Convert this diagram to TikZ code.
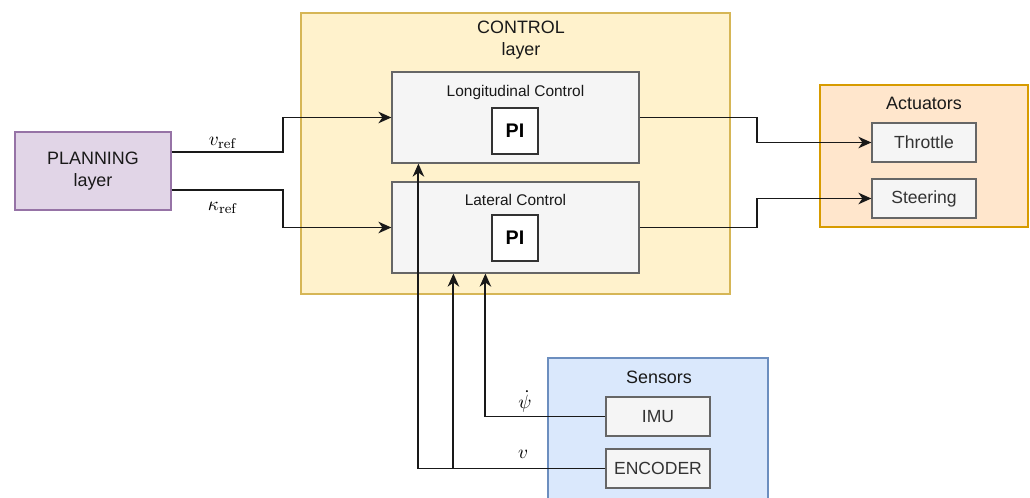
\documentclass[tikz,border=0pt]{standalone}
\usepackage[no-math]{fontspec}
\setmainfont{Liberation Sans}
\usepackage{amsmath}
\usetikzlibrary{arrows.meta,calc}
\definecolor{planfill}{HTML}{E1D5E7}
\definecolor{planline}{HTML}{9673A6}
\definecolor{ctrlfill}{HTML}{FFF2CC}
\definecolor{ctrlline}{HTML}{D6B656}
\definecolor{actfill}{HTML}{FFE6CC}
\definecolor{actline}{HTML}{D79B00}
\definecolor{senfill}{HTML}{DAE8FC}
\definecolor{senline}{HTML}{6C8EBF}
\definecolor{boxfill}{HTML}{F5F5F5}
\definecolor{boxline}{HTML}{666666}
\tikzset{
  layer/.style={
    draw,
    line width=0.7pt,
    inner sep=0pt
  },
  block/.style={
    draw=boxline,
    fill=boxfill,
    line width=0.7pt,
    inner sep=0pt,
    text=black!80,
    font=\fontsize{10}{12}\selectfont
  },
  pibox/.style={
    draw=black!80,
    fill=white,
    line width=0.7pt,
    inner sep=0pt,
    minimum width=0.92cm,
    minimum height=0.92cm,
    font=\fontsize{11.2}{13}\selectfont\bfseries
  },
  title/.style={
    align=center,
    text=black!90,
    font=\fontsize{10.2}{12.8}\selectfont
  },
  subtitle/.style={
    text=black!90,
    font=\fontsize{8.8}{10}\selectfont
  },
  sig/.style={
    font=\fontsize{11}{13}\selectfont
  },
  wire/.style={
    line width=1.05pt,
    black!90,
    -{Stealth[length=2.6mm,width=2.3mm,inset=0.8mm]}
  }
}

\begin{document}
\begin{tikzpicture}[x=0.02cm,y=-0.02cm]
    \useasboundingbox (0,0) rectangle (1030,497);
    \clip (0,0) rectangle (1030,497);
    % layers
    \node[layer,draw=planline,fill=planfill,minimum width=3.12cm,minimum height=1.56cm] (plan) at (93,171) {};
    \node[title] (plantitle) at (plan) {PLANNING\\layer};
    \node[layer,draw=ctrlline,fill=ctrlfill,minimum width=8.58cm,minimum height=5.62cm] (ctrl) at (515.5,153.5) {};
    \node[title] (ctrltitle) at (521,40) {CONTROL\\layer};
    \node[layer,draw=actline,fill=actfill,minimum width=4.16cm,minimum height=2.84cm] (act) at (924,156) {};
    \node[title] (acttitle) at (924,103) {Actuators};
    \node[layer,draw=senline,fill=senfill,minimum width=4.4cm,minimum height=3.4cm] (sen) at (658,443) {};
    \node[title] (sentitle) at (659,377) {Sensors};
    % controllers
    \foreach \n/\y/\ty/\py/\t in {lon/117.5/92.5/131/Longitudinal Control, lat/227.5/200/238/Lateral Control}{
        \node[block,minimum width=4.94cm,minimum height=1.82cm] (\n) at (515.5,\y) {};
        \node[subtitle] (\n title) at (515.5,\ty) {\t};
        \node[pibox] (pi\n) at (515,\py) {PI};
    }
    % actuators and sensors
    \foreach \n/\x/\y/\t in {thr/924/142.5/Throttle, ste/924/198.5/Steering, imu/658/416.5/IMU, enc/658/468.5/ENCODER}{
        \node[block,minimum width=2.08cm,minimum height=0.78cm] (\n) at (\x,\y) {\t};
    }
    % references
    \draw[wire] ([yshift=0.38cm]plan.east) -- ++(111,0) |- (lon.west);
    \draw[wire] ([yshift=-0.38cm]plan.east) -- ++(111,0) |- (lat.west);
    \node[sig] (vref) at (223,143) {$v_{\mathrm{ref}}$};
    \node[sig] (kref) at (223,208) {$\kappa_{\mathrm{ref}}$};
    % commands
    \draw[wire] (lon.east) -- ++(117,0) |- (thr.west);
    \draw[wire] (lat.east) -- ++(117,0) |- (ste.west);
    % feedback
    \coordinate (vlon) at ($(lon.south west)+(27,0)$);
    \coordinate (vlat) at ($(lat.south west)+(62,0)$);
    \coordinate (psilat) at ($(lat.south west)+(94,0)$);
    \draw[wire] (imu.west) -| (psilat);
    \draw[wire] (enc.west) -| (vlon);
    \draw[wire] (vlat |- enc.west) -- (vlat);
    \node[sig] (psi) at (525,401) {$\dot{\psi}$};
    \node[sig] (vsig) at (523,454) {$v$};
\end{tikzpicture}
\end{document}
